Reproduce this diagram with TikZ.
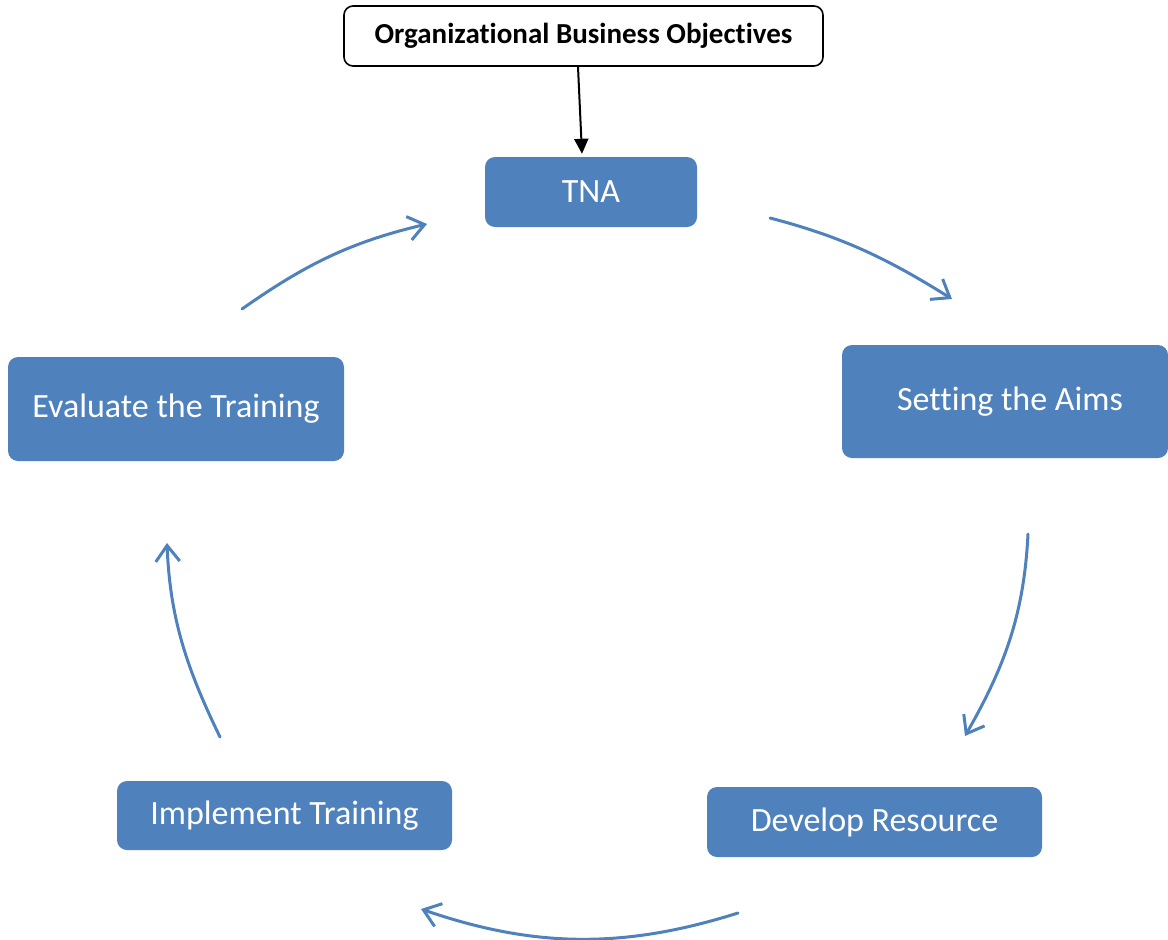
\documentclass[tikz,border=0pt]{standalone}
\usepackage{fontspec}
\setmainfont{Carlito}[Ligatures=NoCommon]
\usetikzlibrary{arrows.meta}
\definecolor{boxblue}{HTML}{4F81BD}
\begin{document}
\begin{tikzpicture}[x=1pt,y=-1pt,
  stepbox/.style={fill=boxblue, rounded corners=10pt, inner sep=0pt,
    text=white, font=\fontsize{34}{40}\selectfont},
  sourcebox/.style={draw=black, line width=1.6pt, fill=white, rounded corners=9pt,
    inner sep=0pt, font=\bfseries\fontsize{29}{34}\selectfont},
  cyclearrow/.style={draw=boxblue, line width=3pt, line cap=round, line join=round,
    -{Straight Barb[length=16pt,width=24pt]}},
  feedarrow/.style={draw=black, line width=2pt,
    -{Triangle[length=15pt,width=14pt]}}
]
\useasboundingbox (0,0) rectangle (1168,940);

% source of the cycle
\node[sourcebox, minimum width=479pt, minimum height=60pt] (obj) at (583.5,36)
  {Organizational Business Objectives};

% the five stages of the training cycle
\node[stepbox, minimum width=212pt, minimum height=70pt]  (tna)  at (591,192)    {TNA};
\node[stepbox, minimum width=326pt, minimum height=113pt] (aims) at (1005,401.5) {\hspace*{10pt}Setting the Aims};
\node[stepbox, minimum width=335pt, minimum height=70pt]  (dev)  at (874.5,822)  {Develop Resource};
\node[stepbox, minimum width=335pt, minimum height=69pt]  (impl) at (284.5,815.5){Implement Training};
\node[stepbox, minimum width=336pt, minimum height=104pt] (eval) at (176,409)    {Evaluate the Training};

% objectives feed into the needs analysis
\draw[feedarrow] ([xshift=-5.5pt]obj.south) -- ([xshift=-9pt,yshift=3pt]tna.north);

% ends of the curved cycle arrows
\coordinate (a1s) at (770,218);  \coordinate (a1e) at (952,299);
\coordinate (a2s) at (1028,534); \coordinate (a2e) at (965,736);
\coordinate (a3s) at (738,913);  \coordinate (a3e) at (421,909);
\coordinate (a4s) at (220,737);  \coordinate (a4e) at (167,543);
\coordinate (a5s) at (242,309);  \coordinate (a5e) at (427,224);

\draw[cyclearrow] (a1s) .. controls (843,237) and (888,259) .. (a1e);
\draw[cyclearrow] (a2s) .. controls (1024,614) and (1005,666) .. (a2e);
\draw[cyclearrow] (a3s) .. controls (624,949) and (534,948) .. (a3e);
\draw[cyclearrow] (a4s) .. controls (187,669) and (170,619) .. (a4e);
\draw[cyclearrow] (a5s) .. controls (306,264) and (351,242) .. (a5e);
\end{tikzpicture}
\end{document}
